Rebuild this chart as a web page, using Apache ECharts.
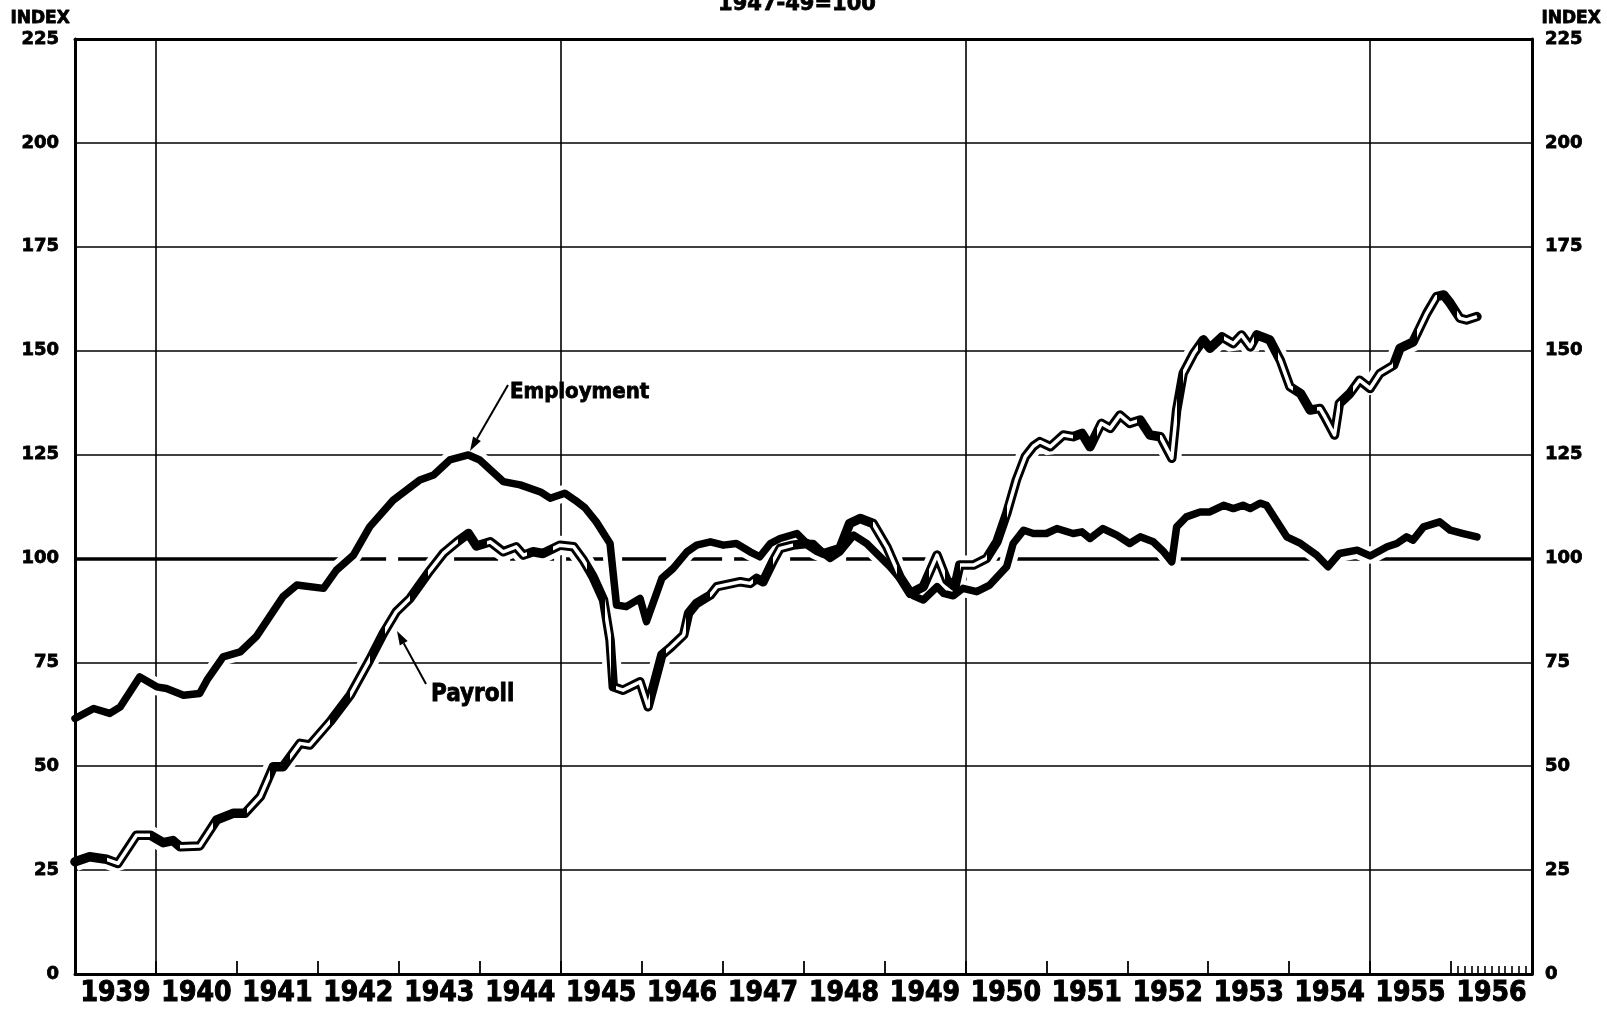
<!DOCTYPE html>
<html>
<head>
<meta charset="utf-8">
<script src="https://cdn.jsdelivr.net/npm/echarts@6/dist/echarts.min.js"></script>
<style>
html,body{margin:0;padding:0;background:#fff;}
#chart{width:1607px;height:1012px;}
</style>
</head>
<body>
<div id="chart"></div>
<script>
// ---- data (index, 1947-49 = 100), x = decimal year ----
const employmentT = [1939.0,1939.23,1939.43,1939.56,1939.8,1940.01,1940.13,1940.34,1940.54,1940.63,1940.83,1941.04,1941.24,1941.57,1941.74,1942.07,1942.23,1942.44,1942.64,1942.93,1943.26,1943.43,1943.63,1943.86,1944.0,1944.29,1944.5,1944.75,1944.87,1945.05,1945.18,1945.3,1945.44,1945.61,1945.69,1945.81,1945.98,1946.06,1946.25,1946.39,1946.56,1946.68,1946.85,1947.01,1947.17,1947.34,1947.46,1947.59,1947.71,1947.92,1948.04,1948.12,1948.25,1948.33,1948.45,1948.62,1948.78,1949.07,1949.28,1949.36,1949.48,1949.65,1949.73,1949.85,1949.97,1950.14,1950.3,1950.51,1950.59,1950.72,1950.84,1951.0,1951.13,1951.33,1951.44,1951.54,1951.7,1951.87,1952.03,1952.16,1952.32,1952.45,1952.55,1952.61,1952.73,1952.9,1953.02,1953.19,1953.31,1953.43,1953.52,1953.64,1953.72,1953.97,1954.14,1954.34,1954.48,1954.62,1954.84,1955.0,1955.21,1955.33,1955.45,1955.53,1955.66,1955.86,1955.99,1956.15,1956.32];
const employment = [61.5,63.9,62.7,64.3,71.5,69.1,68.7,67.1,67.5,70.7,76.3,77.5,81.2,90.8,93.6,92.8,97.2,100.8,107.6,114.0,118.9,120.1,123.7,124.9,123.7,118.5,117.7,116.0,114.5,115.7,114.0,112.2,108.8,103.6,88.8,88.4,90.4,84.8,95.2,97.6,101.6,103.2,104.0,103.2,103.6,101.6,100.4,103.6,104.8,106.0,103.6,103.6,101.2,100.0,101.6,105.6,103.6,98.0,93.2,91.0,90.0,93.2,91.6,91.0,92.8,92.0,93.6,98.0,103.6,106.8,106.0,106.0,107.2,106.0,106.4,104.8,107.2,105.6,103.6,105.2,104.0,101.6,99.2,107.6,110.0,111.2,111.2,112.8,112.0,112.8,112.0,113.3,112.8,105.2,103.6,100.8,98.0,101.2,102.0,100.6,102.8,103.6,105.2,104.4,107.6,108.8,106.8,106.0,105.2];

const payrollT = [1939.0,1939.18,1939.39,1939.53,1939.76,1939.93,1940.09,1940.21,1940.3,1940.54,1940.75,1940.96,1941.1,1941.29,1941.45,1941.57,1941.78,1941.9,1942.15,1942.4,1942.64,1942.81,1942.97,1943.14,1943.39,1943.55,1943.72,1943.86,1943.96,1944.13,1944.29,1944.45,1944.54,1944.66,1944.78,1944.99,1945.16,1945.28,1945.4,1945.53,1945.61,1945.65,1945.77,1945.98,1946.08,1946.25,1946.37,1946.52,1946.58,1946.68,1946.85,1946.93,1947.22,1947.34,1947.42,1947.5,1947.63,1947.71,1947.87,1948.04,1948.16,1948.25,1948.45,1948.57,1948.7,1948.86,1949.03,1949.19,1949.32,1949.48,1949.65,1949.77,1949.87,1949.93,1950.1,1950.26,1950.39,1950.51,1950.63,1950.74,1950.84,1950.92,1951.05,1951.21,1951.33,1951.44,1951.54,1951.68,1951.79,1951.91,1952.03,1952.16,1952.28,1952.41,1952.55,1952.61,1952.69,1952.82,1952.94,1953.02,1953.17,1953.31,1953.41,1953.52,1953.6,1953.76,1953.89,1954.01,1954.14,1954.26,1954.38,1954.44,1954.56,1954.62,1954.75,1954.87,1955.0,1955.12,1955.29,1955.37,1955.53,1955.7,1955.82,1955.91,1955.99,1956.11,1956.19,1956.32];
const payroll = [27.0,28.2,27.6,26.6,33.4,33.4,31.6,32.1,30.6,30.8,37.1,38.7,38.7,42.7,49.9,49.9,55.5,55.1,60.7,67.1,75.6,82.0,87.2,90.4,97.2,101.2,104.0,106.0,103.0,104.0,101.6,102.8,100.8,101.6,101.2,103.2,102.8,99.6,95.6,90.0,80.4,69.1,68.3,70.3,64.3,76.8,78.8,81.6,86.8,89.2,91.2,93.2,94.4,94.0,95.2,94.4,99.6,102.4,103.2,103.6,102.0,101.2,102.4,108.4,109.6,108.4,102.8,95.6,91.6,93.2,100.8,94.8,93.2,98.4,98.4,100.0,104.0,110.8,118.9,124.5,127.0,128.1,126.9,129.7,129.3,130.1,126.9,132.5,131.3,134.5,132.5,133.3,129.7,129.3,124.1,135.7,144.5,149.3,152.6,150.6,153.3,151.7,153.8,150.9,153.8,152.6,147.7,141.3,139.7,135.7,136.1,134.1,129.7,137.3,139.7,142.9,140.9,144.5,146.5,150.6,152.1,159.0,163.0,163.4,161.4,157.8,157.4,158.2];

// stretches where the hollow payroll line is printed solid
const payrollSolid = [[1939.0,1939.39],[1939.93,1940.3],[1940.7,1941.12],[1941.41,1941.66],[1942.15,1942.4],[1942.64,1942.83],[1943.14,1943.36],[1943.73,1944.09],[1944.58,1944.91],[1945.33,1945.55],[1945.62,1945.68],[1946.1,1946.3],[1946.55,1946.85],[1947.37,1947.62],[1947.87,1948.86],[1949.16,1949.55],[1949.75,1949.93],[1950.27,1950.51],[1951.33,1951.62],[1952.12,1952.41],[1952.61,1952.69],[1952.87,1953.19],[1953.56,1953.86],[1954.05,1954.34],[1954.63,1954.79],[1955.28,1955.58],[1955.83,1956.07]];

const yearLabels = ['1939','1940','1941','1942','1943','1944','1945','1946','1947','1948','1949','1950','1951','1952','1953','1954','1955','1956'];
const majorYears = [1940,1945,1950,1955];
const yTicks = [25,50,75,125,150,175,200];

// ---- build ----
const zip = (t, v) => t.map((x, i) => [x, v[i]]);
const empData = zip(employmentT, employment);
const payData = zip(payrollT, payroll);
const labelPos = yearLabels.map(y => +y + 0.5);
const yearTickPos = yearLabels.slice(1).map(y => +y);
const monthTicks = [];
for (let m = 1; m < 12; m++) monthTicks.push(1956 + m / 12);

const BOLD = '"DejaVu Sans", sans-serif';
const NARROW = '"Liberation Sans Narrow", "DejaVu Sans Condensed", sans-serif';

const gridLines = [];
yTicks.forEach(v => gridLines.push({yAxis: v, lineStyle: {color: '#000', width: 1.6, type: 'solid'}}));
majorYears.forEach(v => gridLines.push({xAxis: v, lineStyle: {color: '#000', width: 1.6, type: 'solid'}}));
gridLines.push([{coord: [1939, 100], lineStyle: {color: '#000', width: 3.5, type: 'solid'}}, {coord: [1942.3, 100]}]);
gridLines.push([{coord: [1942.3, 100], lineStyle: {color: '#000', width: 3.5, type: [44, 12]}}, {coord: [1950, 100]}]);
gridLines.push([{coord: [1950, 100], lineStyle: {color: '#000', width: 3.5, type: 'solid'}}, {coord: [1957, 100]}]);

function arrow(x1, y1, x2, y2) {
  const a = Math.atan2(y2 - y1, x2 - x1), L = 14, W = 4.5;
  const bx = x2 - L * Math.cos(a), by = y2 - L * Math.sin(a);
  const px = -Math.sin(a) * W, py = Math.cos(a) * W;
  return [
    {type: 'line', shape: {x1: x1, y1: y1, x2: bx, y2: by}, style: {stroke: '#000', lineWidth: 2}, z: 100},
    {type: 'polygon', shape: {points: [[x2, y2], [bx + px, by + py], [bx - px, by - py]]}, style: {fill: '#000'}, z: 100}
  ];
}

const chart = echarts.init(document.getElementById('chart'), null, {renderer: 'canvas'});
const option = {
  backgroundColor: '#fff',
  animation: false,
  grid: {left: 75, right: 75, top: 39, bottom: 38, containLabel: false},
  xAxis: [
    {type: 'value', min: 1939, max: 1957, position: 'bottom', z: 10,
     axisLine: {show: true, onZero: false, lineStyle: {color: '#000', width: 3}},
     axisTick: {show: true, inside: true, length: 13, customValues: yearTickPos, lineStyle: {color: '#000', width: 1.8}},
     axisLabel: {customValues: labelPos, formatter: v => String(Math.floor(v)), color: '#000', fontFamily: NARROW, fontWeight: 'bold', fontSize: 28, margin: 6, textBorderColor: '#000', textBorderWidth: 1},
     splitLine: {show: false}},
    {type: 'value', min: 1939, max: 1957, position: 'bottom', z: 10,
     axisLine: {show: false},
     axisTick: {show: true, inside: true, length: 8, customValues: monthTicks, lineStyle: {color: '#000', width: 1.6}},
     axisLabel: {show: false}, splitLine: {show: false}},
    {type: 'value', min: 1939, max: 1957, position: 'top', z: 10,
     axisLine: {show: true, onZero: false, lineStyle: {color: '#000', width: 3}},
     axisTick: {show: false}, axisLabel: {show: false}, splitLine: {show: false}}
  ],
  yAxis: [
    {type: 'value', min: 0, max: 225, interval: 25, position: 'left', z: 10,
     axisLine: {show: true, onZero: false, lineStyle: {color: '#000', width: 3}},
     axisTick: {show: false},
     axisLabel: {color: '#000', fontFamily: BOLD, fontWeight: 'bold', fontSize: 18, margin: 16, textBorderColor: '#000', textBorderWidth: 0.8},
     splitLine: {show: false}},
    {type: 'value', min: 0, max: 225, interval: 25, position: 'right', z: 10,
     axisLine: {show: true, onZero: false, lineStyle: {color: '#000', width: 3}},
     axisTick: {show: false},
     axisLabel: {color: '#000', fontFamily: BOLD, fontWeight: 'bold', fontSize: 18, margin: 13, textBorderColor: '#000', textBorderWidth: 0.8},
     splitLine: {show: false}}
  ],
  visualMap: {
    type: 'piecewise', show: false, seriesIndex: 5, dimension: 0,
    pieces: payrollSolid.map(r => ({gte: r[0], lt: r[1], color: '#000'})),
    outOfRange: {color: '#fff'}
  },
  series: [
    {name: 'grid', type: 'line', data: [], z: 1, silent: true,
     markLine: {silent: true, z: 1, symbol: 'none', label: {show: false}, data: gridLines, animation: false}},
    {name: 'empHalo', type: 'line', data: empData, z: 2, symbol: 'none', silent: true,
     lineStyle: {color: '#fff', width: 17}},
    {name: 'payHalo', type: 'line', data: payData, z: 2, symbol: 'none', silent: true,
     lineStyle: {color: '#fff', width: 19}},
    {name: 'Employment', type: 'line', data: empData, z: 3, symbol: 'none',
     lineStyle: {color: '#000', width: 7.5, join: 'round', cap: 'round'}},
    {name: 'Payroll', type: 'line', data: payData, z: 3, symbol: 'none',
     lineStyle: {color: '#000', width: 9.5, join: 'round', cap: 'round'}},
    {name: 'PayrollCore', type: 'line', data: payData, z: 4, symbol: 'none',
     lineStyle: {width: 3.5, join: 'round'}}
  ],
  graphic: [
    {type: 'text', left: 10, top: 10, z: 100, style: {text: 'INDEX', fontFamily: BOLD, fontWeight: 'bold', fontSize: 17, fill: '#000', stroke: '#000', lineWidth: 0.8}},
    {type: 'text', left: 1541, top: 10, z: 100, style: {text: 'INDEX', fontFamily: BOLD, fontWeight: 'bold', fontSize: 17, fill: '#000', stroke: '#000', lineWidth: 0.8}},
    {type: 'text', x: 797, y: 15, z: 100, style: {text: '1947-49=100', align: 'center', verticalAlign: 'bottom', fontFamily: BOLD, fontWeight: 'bold', fontSize: 21, fill: '#000', stroke: '#000', lineWidth: 0.8}},
    {type: 'text', x: 510, y: 392, z: 100, style: {text: 'Employment', align: 'left', verticalAlign: 'middle', fontFamily: NARROW, fontWeight: 'bold', fontSize: 22, fill: '#000', stroke: '#000', lineWidth: 0.8}},
    {type: 'text', x: 431, y: 695, z: 100, style: {text: 'Payroll', align: 'left', verticalAlign: 'middle', fontFamily: NARROW, fontWeight: 'bold', fontSize: 24, fill: '#000', stroke: '#000', lineWidth: 0.8}}
  ].concat(arrow(508, 385, 470, 451)).concat(arrow(426, 684, 397, 631))
};
chart.setOption(option);
</script>
</body>
</html>
